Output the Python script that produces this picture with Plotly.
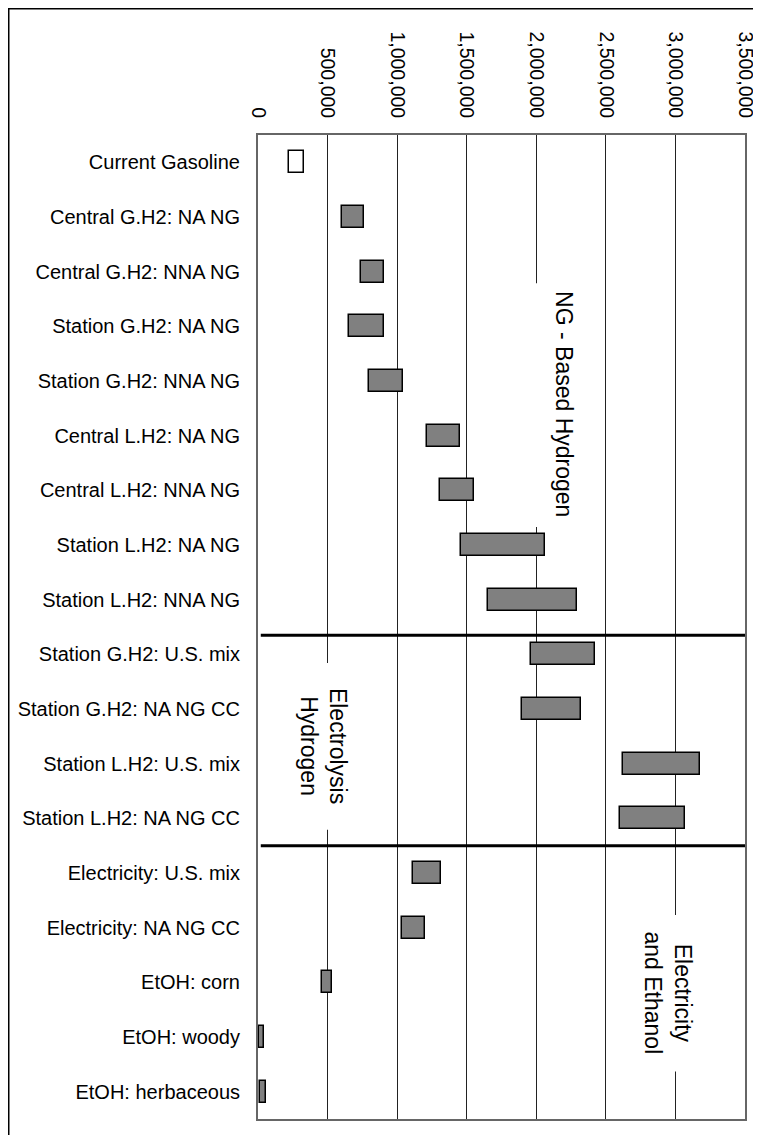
import plotly.graph_objects as go

categories = [
    "Current Gasoline",
    "Central G.H2: NA NG",
    "Central G.H2: NNA NG",
    "Station G.H2: NA NG",
    "Station G.H2: NNA NG",
    "Central L.H2: NA NG",
    "Central L.H2: NNA NG",
    "Station L.H2: NA NG",
    "Station L.H2: NNA NG",
    "Station G.H2: U.S. mix",
    "Station G.H2: NA NG CC",
    "Station L.H2: U.S. mix",
    "Station L.H2: NA NG CC",
    "Electricity: U.S. mix",
    "Electricity: NA NG CC",
    "EtOH: corn",
    "EtOH: woody",
    "EtOH: herbaceous",
]
low_values = [220000, 604000, 743000, 654000, 796000, 1218000, 1306000, 1462000, 1654000,
              1960000, 1896000, 2624000, 2600000, 1114000, 1038000, 463000, 5000, 15000]
high_values = [330000, 762000, 904000, 904000, 1045000, 1452000, 1553000, 2063000, 2293000,
               2423000, 2320000, 3178000, 3072000, 1313000, 1198000, 532000, 43000, 58000]
tick_values = [0, 500000, 1000000, 1500000, 2000000, 2500000, 3000000, 3500000]
tick_labels = ["0", "500,000", "1,000,000", "1,500,000", "2,000,000", "2,500,000", "3,000,000", "3,500,000"]
group_labels = ["NG - Based Hydrogen", "Electrolysis<br>Hydrogen", "Electricity<br>and Ethanol"]
group_label_x = [2198000, 469000, 2945000]
group_label_y = [4.42, 10.68, 15.2]
group_box_x = [(1850000, 2400000), (300000, 750000), (2750000, 3350000)]
group_box_y = [(2.21, 6.67), (9.16, 12.21), (13.77, 16.63)]
separator_y = [8.65, 12.5]

FONT = "Liberation Sans, Arial, sans-serif"
idx = list(range(len(categories)))
widths = [h - l for l, h in zip(low_values, high_values)]
colors = ["white"] + ["#808080"] * (len(categories) - 1)

fig = go.Figure()
fig.add_trace(go.Bar(
    orientation="h", y=idx, x=widths, base=low_values, width=0.4,
    marker=dict(color=colors, line=dict(color="black", width=1.5)),
    showlegend=False, hoverinfo="skip",
))

shapes = []
for (x0, x1), (y0, y1) in zip(group_box_x, group_box_y):
    shapes.append(dict(type="rect", xref="x", yref="y", x0=x0, x1=x1, y0=y0, y1=y1,
                       fillcolor="white", line=dict(width=0), layer="between"))
for sy in separator_y:
    shapes.append(dict(type="line", xref="x", yref="y", x0=20000, x1=3500000, y0=sy, y1=sy,
                       line=dict(color="black", width=3), layer="above"))
# outer frame
shapes.append(dict(type="rect", xref="paper", yref="paper", x0=-0.5118, x1=1.0308,
                   y0=-0.03, y1=1.1283, line=dict(color="black", width=1.5),
                   fillcolor="rgba(0,0,0,0)", layer="above"))

annotations = []
for t, ax, ay in zip(group_labels, group_label_x, group_label_y):
    annotations.append(dict(text=t, x=ax, y=ay, xref="x", yref="y", showarrow=False,
                            textangle=90, font=dict(family=FONT, size=23, color="black")))

fig.update_layout(
    width=753, height=1127,
    margin=dict(l=250, r=16, t=127, b=16, pad=0, autoexpand=False),
    paper_bgcolor="white", plot_bgcolor="white",
    shapes=shapes, annotations=annotations,
    xaxis=dict(side="top", range=[0, 3500000], tickvals=tick_values, ticktext=tick_labels,
               tickangle=90, tickfont=dict(family=FONT, size=19.5, color="black"),
               showgrid=True, gridcolor="#222", gridwidth=1, zeroline=False,
               showline=True, linecolor="#666", linewidth=2, mirror=True,
               ticks="", ticklabelstandoff=8, automargin=False),
    yaxis=dict(range=[17.5, -0.5], tickvals=idx, ticktext=categories,
               tickfont=dict(family=FONT, size=20, color="black"),
               showgrid=False, zeroline=False,
               showline=True, linecolor="#666", linewidth=2, mirror=True,
               ticks="", ticklabelstandoff=12, automargin=False),
    bargap=0,
)

fig.write_html("out.html")
